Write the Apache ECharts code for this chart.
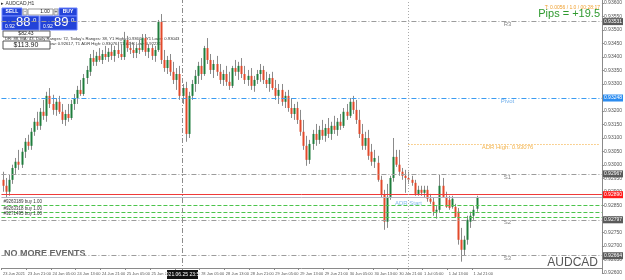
<!DOCTYPE html>
<html><head><meta charset="utf-8">
<script src="https://cdn.jsdelivr.net/npm/echarts@6/dist/echarts.min.js"></script>
<style>html,body{margin:0;padding:0;background:#fff}#c{width:625px;height:280px}</style>
</head><body><div id="c"></div>
<script>
// Time-axis tick labels (one every 8 hourly bars)
const tickLabels = ['23 Jun 2021','23 Jun 21:00','24 Jun 05:00','24 Jun 13:00','24 Jun 21:00','25 Jun 05:00','25 Jun 13:00','25 Jun 21:00','28 Jun 05:00','28 Jun 13:00','28 Jun 21:00','29 Jun 05:00','29 Jun 13:00','29 Jun 21:00','30 Jun 05:00','30 Jun 13:00','30 Jun 21:00','1 Jul 05:00','1 Jul 13:00','1 Jul 21:00'];
const slotCount = 194; // bars + right shift space
// Prices in points (price * 100000)
const opens = [92945,92923,92901,92945,92989,93012,93001,93049,93086,93071,93123,93160,93145,93197,93182,93256,93226,93204,93234,93197,93167,93189,93174,93226,93248,93278,93263,93322,93345,93396,93382,93404,93389,93411,93400,93419,93404,93426,93411,93400,93463,93433,93426,93415,93433,93426,93470,93419,93433,93404,93426,93530,93389,93359,93389,93345,93315,93337,93256,93285,93115,93256,93300,93330,93367,93337,93433,93389,93352,93374,93345,93315,93337,93308,93293,93359,93345,93367,93337,93315,93330,93293,93315,93337,93352,93315,93300,93322,93285,93256,93278,93234,93256,93211,93189,93211,93167,93123,93071,93019,93078,93115,93093,93130,93108,93137,93115,93145,93130,93160,93145,93197,93182,93234,93204,93167,93115,93071,93100,93049,93012,93008,92945,92890,92790,92882,92952,93030,93001,92975,92960,92952,92945,92934,92893,92908,92897,92908,92875,92864,92827,92834,92923,92882,92871,92845,92845,92827,92723,92686,92723,92790,92812,92838];
const closes = [92923,92901,92945,92989,93012,93001,93049,93086,93071,93123,93160,93145,93197,93182,93256,93226,93204,93234,93197,93167,93189,93174,93226,93248,93278,93263,93322,93352,93396,93382,93404,93389,93411,93400,93419,93404,93426,93411,93400,93463,93433,93426,93415,93433,93426,93470,93419,93433,93404,93426,93530,93389,93359,93389,93345,93315,93337,93256,93285,93115,93256,93300,93330,93367,93337,93433,93389,93352,93374,93345,93315,93337,93308,93293,93359,93345,93367,93337,93315,93330,93293,93315,93337,93352,93315,93300,93322,93285,93256,93278,93234,93256,93211,93189,93211,93167,93123,93071,93019,93078,93115,93093,93130,93108,93137,93115,93145,93130,93160,93145,93197,93182,93234,93204,93167,93115,93071,93100,93034,93012,93026,92945,92890,92790,92882,92952,93030,93001,92975,92960,92952,92945,92934,92893,92908,92897,92908,92875,92864,92827,92834,92923,92882,92845,92841,92875,92808,92723,92686,92723,92797,92812,92834,92880];
const lows = [92901,92878,92886,92930,92967,92982,92989,93026,93056,93056,93108,93130,93130,93167,93160,93211,93186,93182,93189,93152,93145,93160,93167,93204,93226,93256,93256,93300,93330,93367,93367,93382,93374,93389,93382,93389,93382,93396,93389,93389,93419,93411,93396,93396,93411,93419,93404,93396,93389,93382,93419,93374,93345,93337,93330,93300,93278,93241,93226,93086,93100,93241,93271,93300,93315,93330,93374,93337,93322,93330,93300,93293,93293,93278,93285,93330,93315,93322,93300,93293,93278,93271,93300,93308,93300,93285,93271,93278,93241,93226,93219,93211,93197,93174,93167,93152,93108,93056,92997,93004,93056,93071,93078,93093,93086,93100,93093,93115,93108,93130,93137,93167,93174,93189,93152,93100,93056,93056,93019,92997,92989,92938,92878,92760,92767,92871,92938,92993,92960,92945,92897,92930,92923,92886,92886,92886,92878,92864,92856,92812,92801,92823,92878,92841,92834,92838,92804,92705,92642,92664,92705,92767,92797,92827];
const highs = [92975,92952,92964,93001,93026,93056,93063,93100,93112,93137,93174,93197,93211,93241,93271,93285,93260,93248,93256,93226,93204,93226,93241,93263,93293,93315,93337,93367,93411,93426,93419,93433,93426,93441,93433,93448,93441,93456,93448,93493,93478,93456,93448,93444,93463,93485,93485,93448,93448,93441,93537,93559,93426,93404,93411,93382,93359,93367,93300,93308,93271,93315,93352,93382,93396,93441,93470,93411,93389,93404,93374,93352,93367,93345,93367,93389,93382,93396,93367,93352,93359,93330,93352,93374,93367,93345,93337,93345,93315,93300,93300,93271,93278,93248,93226,93234,93204,93167,93108,93093,93130,93152,93145,93167,93152,93174,93160,93182,93174,93189,93211,93226,93248,93256,93241,93204,93152,93123,93130,93078,93056,93034,92960,92908,92930,92960,93100,93056,93056,92989,92982,92975,92960,92945,92923,92923,92923,92923,92893,92878,92849,92964,92952,92901,92886,92886,92856,92841,92767,92738,92812,92827,92849,92886];
// Horizontal levels
const levelNames = ['R3','Pivot','S1','S2','S3'];
const levelPrices = [93531,93248,92967,92797,92664];
const adrHigh = 93076;
const askPrice = 92890;
const bidPrice = 92880;
const orderPrices = [92851,92825,92806];
const orderLabels = ['#9263189 buy 1.00','#9263318 buy 1.00','#9271495 buy 1.00'];
const sepBars = [58, 131];

const categories = Array.from({length: slotCount}, (_, i) => String(i));
const candles = opens.map((o, i) => [i, o, closes[i], lows[i], highs[i]]);
const fmt = v => (v / 100000).toFixed(5);
const UP = '#1e7d3c', DOWN = '#e2492a', WICK = '#8a8a8a';
const BLUE = '#2343d8';

const chart = echarts.init(document.getElementById('c'), null, {renderer: 'canvas'});

const boxLabel = (bg) => ({show: true, position: 'end', distance: 1, formatter: p => fmt(p.value), backgroundColor: bg, color: '#fff', fontSize: 5, padding: [1, 1], fontFamily: 'Liberation Sans'});
const dashDot = [5, 2, 1, 2];

const markData = [];
levelNames.forEach((n, i) => {
  markData.push({yAxis: levelPrices[i], lineStyle: {color: n === 'Pivot' ? '#3b9cf2' : '#9c9c9c', type: dashDot, width: 1}, label: boxLabel(n === 'Pivot' ? '#2b8cf0' : '#5a5a5a')});
});
markData.push([{coord: [sepBars[1], adrHigh], lineStyle: {color: '#f4a52a', type: [1, 2], width: 1}, label: {show: false}}, {coord: [slotCount - 1, adrHigh]}]);
markData.push({yAxis: bidPrice, lineStyle: {color: '#b4b4c4', type: 'solid', width: 1}, label: {show: false}});
markData.push({yAxis: askPrice, lineStyle: {color: '#f03a3a', type: 'solid', width: 1}, label: boxLabel('#ff1a1a')});
orderPrices.forEach((p, i) => {
  markData.push({yAxis: p, lineStyle: {color: '#4cc44c', type: [4, 2], width: 1}, label: {show: true, position: 'insideStartTop', distance: [2, 1], formatter: orderLabels[i], fontSize: 4.5, color: '#333', fontFamily: 'Liberation Sans'}});
});
markData.push({xAxis: sepBars[0], lineStyle: {color: '#8c8c8c', type: dashDot, width: 1}, label: {show: false}});
markData.push({xAxis: sepBars[1], lineStyle: {color: '#aaaaaa', type: [1, 2], width: 1}, label: {show: false}});

const labelPoints = levelNames.map((n, i) => ({value: [163, levelPrices[i]], name: n, label: {color: n === 'Pivot' ? '#4a9ae6' : '#666'}}));
labelPoints.push({value: [163, adrHigh], name: 'ADR High: ' + fmt(adrHigh), label: {color: '#f0a020'}});
labelPoints.push({value: [sepBars[1], bidPrice], name: 'ADR Start', label: {color: '#6aaae6', offset: [0, 6]}});

chart.setOption({
  animation: false,
  textStyle: {fontFamily: 'Liberation Sans, Arial, sans-serif'},
  grid: {left: 0, right: 18, top: 0, bottom: 7},
  xAxis: {
    type: 'category', data: categories, boundaryGap: true, offset: -5,
    axisLine: {show: true, lineStyle: {color: '#8a8a8a'}},
    axisTick: {show: true, length: 2, interval: i => i % 8 === 0 && i <= 152, lineStyle: {color: '#888'}},
    axisLabel: {interval: i => i % 8 === 0 && i <= 152, formatter: (v, i) => tickLabels[i / 8] || '', fontSize: 4, color: '#555', align: 'left', margin: 4, showMinLabel: true, hideOverlap: false},
    splitLine: {show: false}
  },
  yAxis: {
    type: 'value', position: 'right', min: 92600, max: 93611, interval: 50, scale: true,
    axisLine: {show: true, lineStyle: {color: '#8a8a8a'}},
    axisTick: {show: true, length: 2, lineStyle: {color: '#888'}},
    axisLabel: {formatter: v => fmt(v), fontSize: 5, color: '#555', margin: 2, showMaxLabel: false},
    splitLine: {show: false}
  },
  series: [
    {
      type: 'custom', data: candles, encode: {x: 0, y: [1, 2, 3, 4]},
      renderItem: (params, api) => {
        const x = api.value(0), o = api.value(1), c = api.value(2), l = api.value(3), h = api.value(4);
        const pO = api.coord([x, o]), pC = api.coord([x, c]), pL = api.coord([x, l]), pH = api.coord([x, h]);
        const cx = Math.round(pO[0]) + 0.5, w = 2;
        const top = Math.min(pO[1], pC[1]);
        return {type: 'group', children: [
          {type: 'line', shape: {x1: cx, y1: pH[1], x2: cx, y2: pL[1]}, style: {stroke: WICK, lineWidth: 1}},
          {type: 'rect', shape: {x: cx - 1, y: top, width: w, height: Math.max(1, Math.abs(pO[1] - pC[1]))}, style: {fill: c >= o ? UP : DOWN}}
        ]};
      },
      markLine: {silent: true, symbol: ['none', 'none'], precision: 0, data: markData}
    },
    {
      type: 'scatter', data: labelPoints, symbolSize: 0, silent: true,
      label: {show: true, position: 'inside', offset: [0, 3], formatter: '{b}', fontSize: 6, fontFamily: 'Liberation Sans'}
    }
  ],
  graphic: [
    {type: 'text', left: 1, top: 1, style: {text: '▸ AUDCAD,H1', fontSize: 5, fill: '#333'}},
    {type: 'rect', shape: {x: 2, y: 8, width: 20, height: 8}, style: {fill: BLUE, stroke: '#6c84ff'}},
    {type: 'text', x: 12, y: 12, style: {text: 'SELL', fontSize: 5, fill: '#fff', align: 'center', verticalAlign: 'middle', fontWeight: 'bold'}},
    {type: 'rect', shape: {x: 23, y: 9, width: 4, height: 6}, style: {fill: '#eee', stroke: '#999'}},
    {type: 'text', x: 25, y: 12, style: {text: '-', fontSize: 5, fill: '#333', align: 'center', verticalAlign: 'middle'}},
    {type: 'rect', shape: {x: 28, y: 9, width: 25, height: 6}, style: {fill: '#fff', stroke: '#999'}},
    {type: 'text', x: 45, y: 12, style: {text: '1.00', fontSize: 5, fill: '#222', align: 'center', verticalAlign: 'middle'}},
    {type: 'rect', shape: {x: 54, y: 9, width: 4, height: 6}, style: {fill: '#eee', stroke: '#999'}},
    {type: 'text', x: 56, y: 12, style: {text: '+', fontSize: 5, fill: '#333', align: 'center', verticalAlign: 'middle'}},
    {type: 'rect', shape: {x: 59, y: 8, width: 18, height: 8}, style: {fill: BLUE, stroke: '#6c84ff'}},
    {type: 'text', x: 68, y: 12, style: {text: 'BUY', fontSize: 5, fill: '#fff', align: 'center', verticalAlign: 'middle', fontWeight: 'bold'}},
    {type: 'rect', shape: {x: 2, y: 16, width: 37, height: 14}, style: {fill: BLUE, stroke: '#6c84ff'}},
    {type: 'text', x: 5, y: 24, style: {text: '0.92', fontSize: 5, fill: '#fff'}},
    {type: 'text', x: 16, y: 16, style: {text: '88', fontSize: 13, fill: '#fff'}},
    {type: 'text', x: 33, y: 17, style: {text: '0', fontSize: 6, fill: '#fff'}},
    {type: 'rect', shape: {x: 40, y: 16, width: 37, height: 14}, style: {fill: BLUE, stroke: '#6c84ff'}},
    {type: 'text', x: 43, y: 24, style: {text: '0.92', fontSize: 5, fill: '#fff'}},
    {type: 'text', x: 54, y: 16, style: {text: '89', fontSize: 13, fill: '#fff'}},
    {type: 'text', x: 71, y: 17, style: {text: '0', fontSize: 6, fill: '#fff'}},
    {type: 'rect', shape: {x: 3, y: 31, width: 47, height: 6}, style: {fill: '#fff', stroke: '#666'}},
    {type: 'text', x: 26, y: 34, style: {text: '$82.43', fontSize: 5, fill: '#222', align: 'center', verticalAlign: 'middle'}},
    {type: 'text', x: 5, y: 37, style: {text: "DR: 88, MA: 43, Daily Ranges: 72, Today's Ranges: 38, Y1 Highs: 0.93602, Y1 Lows: 0.93043", fontSize: 4.2, fill: '#333'}},
    {type: 'text', x: 5, y: 42, style: {text: 'Y1 Close: 0.93251, T1 Low: 0.92617, T1 ADR High: 0.93076, T1 ADR Low: 0.92231', fontSize: 4.2, fill: '#333'}},
    {type: 'rect', shape: {x: 3, y: 41, width: 47, height: 8}, style: {fill: '#fff', stroke: '#555'}},
    {type: 'text', x: 26, y: 45, style: {text: '$113.90', fontSize: 7, fill: '#222', align: 'center', verticalAlign: 'middle'}},
    {type: 'text', x: 600, y: 5, style: {text: 'T: 0.0056 / 1.0 / 00:28:17', fontSize: 5, fill: '#f0a030', align: 'right'}},
    {type: 'text', x: 600, y: 14, style: {text: 'Pips = +19.5', fontSize: 11, fill: '#2f9a2f', align: 'right', verticalAlign: 'middle'}},
    {type: 'text', x: 4, y: 254, style: {text: 'NO MORE EVENTS', fontSize: 9, fontWeight: 'bold', fill: '#666', verticalAlign: 'middle'}},
    {type: 'text', x: 598, y: 263, style: {text: 'AUDCAD', fontSize: 12, fill: '#555', align: 'right', verticalAlign: 'middle'}},
    {type: 'rect', z: 10, shape: {x: 167, y: 270, width: 31, height: 9}, style: {fill: '#111'}},
    {type: 'text', z: 11, x: 182.5, y: 274.5, style: {text: '2021.06.25 23:59', fontSize: 5, fill: '#fff', align: 'center', verticalAlign: 'middle'}}
  ]
});
</script></body></html>
